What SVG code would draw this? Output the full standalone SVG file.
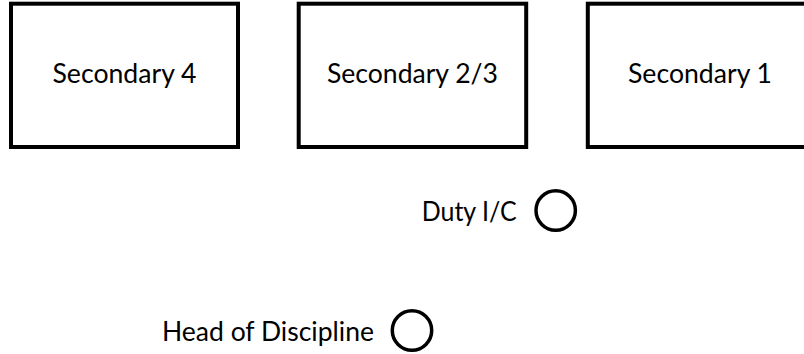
<svg xmlns="http://www.w3.org/2000/svg" width="804" height="354" viewBox="0 0 804 354">
  <style>
    .box { fill: #ffffff; stroke: #000000; stroke-width: 4; }
    .ring { fill: none; stroke: #000000; stroke-width: 3.5; }
    .lbl { font-family: Lato, "Open Sans", "Liberation Sans", sans-serif; font-size: 26px; fill: #000000; }
  </style>
  <rect width="804" height="354" fill="#ffffff"/>
  <g id="secondary-4">
    <rect class="box" x="11" y="3.7" width="227" height="143.3"/>
    <text class="lbl" x="52.5" y="82.7" textLength="144" lengthAdjust="spacingAndGlyphs">Secondary 4</text>
  </g>
  <g id="secondary-2-3">
    <rect class="box" x="298.7" y="3.7" width="227.5" height="143.3"/>
    <text class="lbl" x="327" y="82.7" textLength="171" lengthAdjust="spacingAndGlyphs">Secondary 2/3</text>
  </g>
  <g id="secondary-1">
    <rect class="box" x="587.8" y="3.7" width="227" height="143.3"/>
    <text class="lbl" x="628" y="82.7" textLength="144" lengthAdjust="spacingAndGlyphs">Secondary 1</text>
  </g>
  <g id="duty-ic">
    <text class="lbl" x="421.7" y="220.7" textLength="95" lengthAdjust="spacingAndGlyphs">Duty I/C</text>
    <circle class="ring" cx="555.7" cy="210.5" r="19.7"/>
  </g>
  <g id="head-of-discipline">
    <text class="lbl" x="162" y="340.7" textLength="212" lengthAdjust="spacingAndGlyphs">Head of Discipline</text>
    <circle class="ring" cx="412" cy="330.5" r="19.7"/>
  </g>
  <g id="connectors"></g>
</svg>
